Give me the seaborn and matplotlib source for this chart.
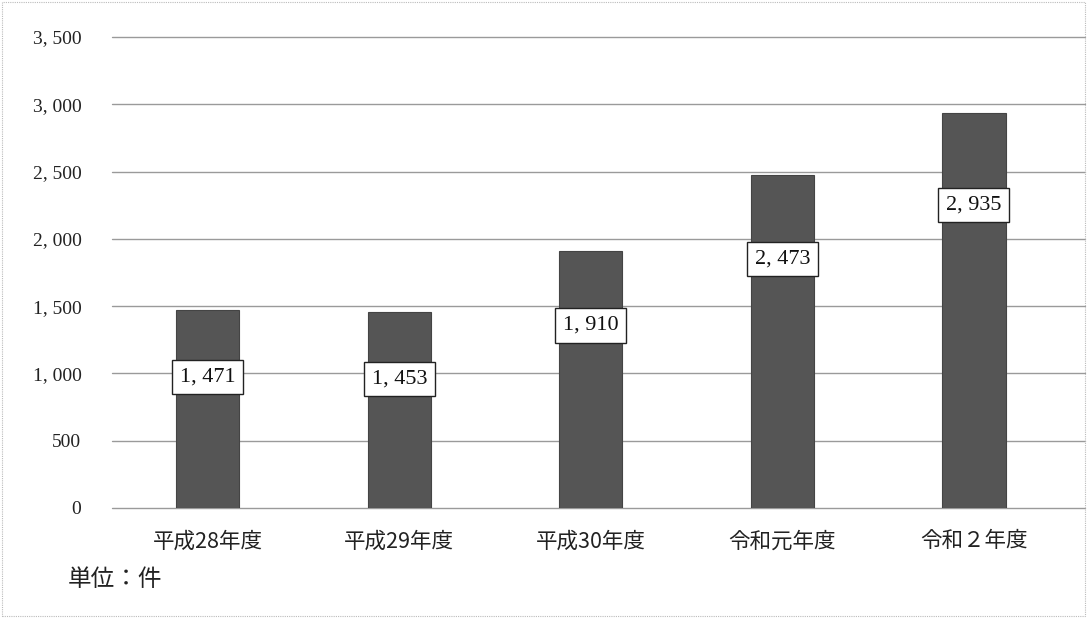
import matplotlib
matplotlib.use("Agg")
import matplotlib.pyplot as plt
import seaborn as sns
import pandas as pd
from matplotlib.patches import Rectangle

# 年度別件数
years = ["平成28年度", "平成29年度", "平成30年度", "令和元年度", "令和２年度"]
counts = [1471, 1453, 1910, 2473, 2935]
y_ticks = [0, 500, 1000, 1500, 2000, 2500, 3000, 3500]
y_tick_labels = ["0", "500", "1, 000", "1, 500", "2, 000", "2, 500", "3, 000", "3, 500"]
unit_text = "単位：件"

df = pd.DataFrame({"year": years, "count": counts})

sns.set_theme(style="white")
plt.rcParams["font.family"] = ["Noto Sans CJK JP", "DejaVu Sans"]

fig = plt.figure(figsize=(10.87, 6.18), dpi=100)
ax = fig.add_axes([112 / 1087, 0.178, 973 / 1087, 0.762])

sns.barplot(data=df, x="year", y="count", color="#555555", width=0.33,
            saturation=1, edgecolor="#444444", linewidth=0.8, ax=ax, zorder=3)

ax.set_ylim(0, 3500)
ax.set_xlim(-0.5, len(years) - 0.42)
ax.set_yticks(y_ticks)
ax.set_yticklabels(y_tick_labels, family="Liberation Serif", fontsize=14, color="#222222")
ax.tick_params(axis="y", length=0, pad=22)
ax.tick_params(axis="x", length=0, pad=16, labelsize=15.5, labelcolor="#222222")
ax.set_xlabel("")
ax.set_ylabel("")
for s in ax.spines.values():
    s.set_visible(False)
for t in y_ticks:
    ax.axhline(t, color="#9a9a9a", linewidth=1.0, zorder=1, clip_on=False)

# 値ラベル（棒の内側に枠付きで表示）
for i, v in enumerate(counts):
    ly = 0.874 * v - 312
    ax.text(i, ly, f"{v:,}".replace(",", ", "), ha="center", va="center",
            family="Liberation Serif", fontsize=16, color="#111111", zorder=5,
            bbox=dict(boxstyle="square,pad=0.35", facecolor="white",
                      edgecolor="#222222", linewidth=1.0))

fig.text(68 / 1087, 1 - 579 / 618, unit_text, ha="left", va="center",
         fontsize=17, color="#222222")

# 外枠
fig.patches.append(Rectangle((0.002, 0.003), 0.996, 0.994, transform=fig.transFigure,
                             fill=False, edgecolor="#bbbbbb", linewidth=0.8,
                             linestyle=(0, (1, 1))))

fig.savefig("out.png", dpi=100)
